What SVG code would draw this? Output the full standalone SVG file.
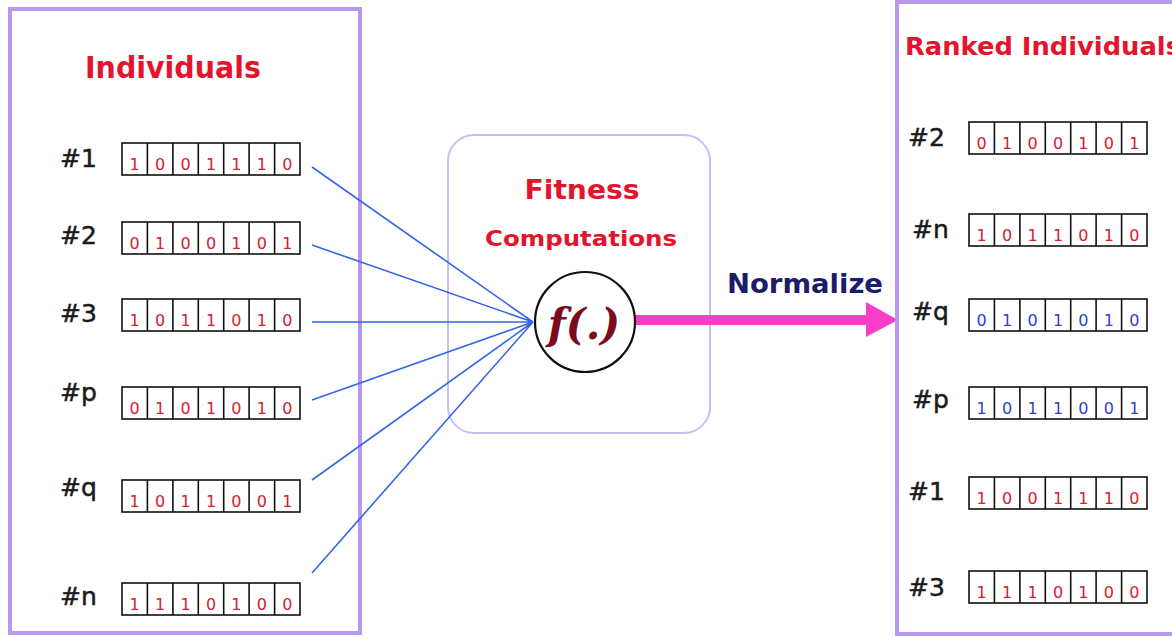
<svg xmlns="http://www.w3.org/2000/svg" xmlns:xlink="http://www.w3.org/1999/xlink" width="1172" height="639" viewBox="0 0 1172 639">
  <style>
    .panel { fill: #ffffff; stroke: #b898ec; stroke-width: 4; }
    .stage { fill: #ffffff; stroke: #cbbcf2; stroke-width: 2; }
    .title { font-family: "DejaVu Sans", sans-serif; font-weight: bold; fill: #e3142c; }
    .label { font-family: "DejaVu Sans", sans-serif; font-size: 25px; fill: #1a1a1a; stroke: #1a1a1a; stroke-width: 0.5; }
    .bits { font-family: "DejaVu Sans", sans-serif; font-size: 16px; text-anchor: middle; }
    .red { fill: #d8202e; }
    .blue { fill: #2f3cd0; }
    .cellbox { fill: #ffffff; stroke: #111111; stroke-width: 1.6; }
    .wire { stroke: #3466e6; stroke-width: 1.6; fill: none; }
  </style>
  <defs>
    <!-- seven-cell chromosome frame, 178 x 32 -->
    <symbol id="cells" overflow="visible">
      <rect class="cellbox" x="0" y="0" width="178" height="32"/>
      <path d="M25.4 0V32M50.9 0V32M76.3 0V32M101.7 0V32M127.1 0V32M152.6 0V32" stroke="#111111" stroke-width="1.6"/>
    </symbol>
  </defs>

  <rect width="1172" height="639" fill="#ffffff"/>

  <!-- left panel: population -->
  <g id="population">
    <rect class="panel" x="10" y="9" width="350" height="624"/>
    <text class="title" x="173" y="78" font-size="30" text-anchor="middle" textLength="176" lengthAdjust="spacingAndGlyphs">Individuals</text>
  </g>

  <g id="ind-1">
    <text class="label" x="60" y="167">#1</text>
    <use xlink:href="#cells" x="122" y="143"/>
    <text class="bits red" x="134.7 160.1 185.6 211.0 236.4 261.9 287.3" y="170">1001110</text>
  </g>
  <g id="ind-2">
    <text class="label" x="60" y="244">#2</text>
    <use xlink:href="#cells" x="122" y="222"/>
    <text class="bits red" x="134.7 160.1 185.6 211.0 236.4 261.9 287.3" y="249">0100101</text>
  </g>
  <g id="ind-3">
    <text class="label" x="60" y="322">#3</text>
    <use xlink:href="#cells" x="122" y="299"/>
    <text class="bits red" x="134.7 160.1 185.6 211.0 236.4 261.9 287.3" y="326">1011010</text>
  </g>
  <g id="ind-p">
    <text class="label" x="60" y="401">#p</text>
    <use xlink:href="#cells" x="122" y="387"/>
    <text class="bits red" x="134.7 160.1 185.6 211.0 236.4 261.9 287.3" y="414">0101010</text>
  </g>
  <g id="ind-q">
    <text class="label" x="60" y="496">#q</text>
    <use xlink:href="#cells" x="122" y="480"/>
    <text class="bits red" x="134.7 160.1 185.6 211.0 236.4 261.9 287.3" y="507">1011001</text>
  </g>
  <g id="ind-n">
    <text class="label" x="60" y="605">#n</text>
    <use xlink:href="#cells" x="122" y="583"/>
    <text class="bits red" x="134.7 160.1 185.6 211.0 236.4 261.9 287.3" y="610">1110100</text>
  </g>

  <!-- middle stage: fitness evaluation -->
  <g id="fitness">
    <rect class="stage" x="448" y="135" width="262" height="298" rx="26" ry="26"/>
    <text class="title" x="582" y="199" font-size="27" text-anchor="middle" textLength="115" lengthAdjust="spacingAndGlyphs">Fitness</text>
    <text class="title" x="581" y="246" font-size="21" text-anchor="middle" textLength="192" lengthAdjust="spacingAndGlyphs">Computations</text>
  </g>

  <!-- connectors -->
  <g id="connectors">
    <path class="wire" d="M312 167L533 322M312 245L533 322M312 322L533 322M312 400L533 322M312 480L533 322M312 573L533 322"/>
    <line x1="633" y1="320" x2="872" y2="320" stroke="#f63fc6" stroke-width="10" stroke-linecap="round"/>
    <polygon points="866,302 898,320 866,337" fill="#f63fc6"/>
    <text x="805" y="293" font-family="DejaVu Sans, sans-serif" font-weight="bold" font-size="27" fill="#1c1c6a" text-anchor="middle" textLength="156" lengthAdjust="spacingAndGlyphs">Normalize</text>
  </g>

  <g id="f-node">
    <circle cx="585" cy="322" r="50" fill="#ffffff" stroke="#111111" stroke-width="2.2"/>
    <text x="584" y="339" font-family="DejaVu Serif, serif" font-style="italic" font-weight="bold" font-size="42" fill="#7a0c1e" text-anchor="middle">f(.)</text>
  </g>

  <!-- right panel: ranked population -->
  <g id="ranked">
    <rect class="panel" x="897" y="2" width="290" height="632"/>
    <text class="title" x="905" y="55" font-size="25" textLength="276" lengthAdjust="spacingAndGlyphs">Ranked Individuals</text>
  </g>

  <g id="rank-2">
    <text class="label" x="908" y="146">#2</text>
    <use xlink:href="#cells" x="969" y="122"/>
    <text class="bits red" x="981.7 1007.1 1032.6 1058.0 1083.4 1108.9 1134.3" y="149">0100101</text>
  </g>
  <g id="rank-n">
    <text class="label" x="912" y="238">#n</text>
    <use xlink:href="#cells" x="969" y="214"/>
    <text class="bits red" x="981.7 1007.1 1032.6 1058.0 1083.4 1108.9 1134.3" y="241">1011010</text>
  </g>
  <g id="rank-q">
    <text class="label" x="912" y="320">#q</text>
    <use xlink:href="#cells" x="969" y="299"/>
    <text class="bits blue" x="981.7 1007.1 1032.6 1058.0 1083.4 1108.9 1134.3" y="326">0101010</text>
  </g>
  <g id="rank-p">
    <text class="label" x="912" y="408">#p</text>
    <use xlink:href="#cells" x="969" y="387"/>
    <text class="bits blue" x="981.7 1007.1 1032.6 1058.0 1083.4 1108.9 1134.3" y="414">1011001</text>
  </g>
  <g id="rank-1">
    <text class="label" x="908" y="500">#1</text>
    <use xlink:href="#cells" x="969" y="477"/>
    <text class="bits red" x="981.7 1007.1 1032.6 1058.0 1083.4 1108.9 1134.3" y="504">1001110</text>
  </g>
  <g id="rank-3">
    <text class="label" x="908" y="596">#3</text>
    <use xlink:href="#cells" x="969" y="571"/>
    <text class="bits red" x="981.7 1007.1 1032.6 1058.0 1083.4 1108.9 1134.3" y="598">1110100</text>
  </g>
</svg>
